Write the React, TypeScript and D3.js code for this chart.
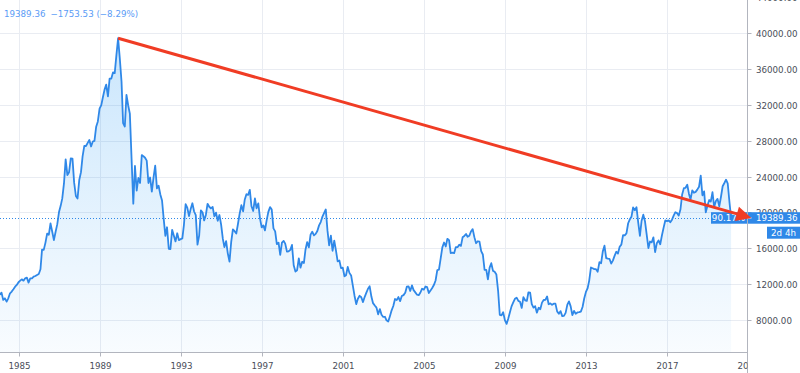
import React, { useRef, useEffect } from 'react';
import * as d3 from 'd3';

// Nikkei 225, monthly closes. Each list starts in January of its start year.
const closes1984to1989 = [
  10900, 10870, 11060, 10240, 10420, 10050, 10420, 10980, 11170, 11430, 11720, 11910,
  12210, 12390, 12540, 12390, 12650, 12730, 12170, 12650, 12650, 12840, 12910, 13030,
  13140, 13660, 15860, 15830, 16610, 17650, 17510, 18790, 17850, 16910, 17850, 18700,
  20050, 20770, 21570, 23270, 25930, 24180, 24490, 26030, 26010, 23330, 21840, 21560,
  23620, 24500, 26260, 27430, 27420, 27770, 28100, 27370, 27920, 28000, 29580, 30160,
  31580, 31990, 32840, 33710, 34270, 32950, 34950, 34950, 35640, 35550, 37600, 39450,
];

const closes1990s = [
  37190, 34590, 29980, 29590, 33130, 31940, 31040, 25980, 20980, 25190, 22450, 23850,
  23290, 26410, 26290, 26110, 25790, 23290, 23900, 22340, 23920, 25220, 22690, 22980,
  22020, 21340, 19350, 17390, 18350, 15950, 15910, 18060, 17400, 16770, 17680, 16920,
  17020, 17110, 18590, 20920, 20550, 19590, 20380, 21030, 20110, 19700, 16410, 17420,
  20230, 20000, 19110, 19730, 20970, 20640, 20450, 20630, 19560, 19990, 19080, 19720,
  18650, 17050, 16140, 16810, 15440, 14520, 16680, 18120, 17910, 17650, 18740, 19870,
  20810, 20130, 21410, 22040, 21960, 22530, 20690, 20170, 21560, 20470, 21020, 19360,
  18330, 18560, 18000, 19150, 20070, 20600, 20330, 18230, 17890, 16460, 16640, 15260,
  16630, 16830, 16530, 15640, 15670, 15830, 16380, 14110, 13410, 13560, 14880, 13840,
  14500, 14370, 15840, 16700, 16110, 17530, 17860, 17440, 17610, 17940, 18560, 18930,
];

const closes2000s = [
  19540, 19960, 20340, 17970, 16330, 17410, 15730, 16860, 15750, 14540, 14650, 13790,
  13840, 12880, 13000, 13930, 13260, 12970, 11860, 10710, 9770, 10370, 10700, 10540,
  10000, 10590, 11020, 11490, 11760, 10620, 9880, 9620, 9380, 8640, 9220, 8580,
  8340, 8360, 7970, 7830, 8420, 9080, 9560, 10340, 10220, 10560, 10100, 10680,
  10780, 11040, 11720, 11760, 11240, 11860, 11330, 11080, 10820, 10770, 11070, 11490,
  11390, 11740, 11670, 11010, 11280, 11580, 11900, 12410, 13570, 13610, 14870, 16110,
  16650, 16210, 17060, 16910, 15470, 15510, 15460, 16140, 16130, 16400, 16270, 17230,
  17380, 17600, 17290, 17400, 17880, 18140, 17250, 16570, 16790, 16740, 15680, 15310,
  13590, 13600, 12530, 13850, 14340, 13480, 13380, 13070, 11260, 8580, 8510, 8860,
  7990, 7570, 8110, 8830, 9520, 9960, 10360, 10490, 10130, 10030, 9350, 10550,
];

const closes2010s = [
  10200, 10130, 11090, 11060, 9770, 9380, 9540, 8820, 9370, 9200, 9940, 10230,
  10240, 10620, 9760, 9850, 9690, 9820, 9830, 8960, 8700, 8990, 8430, 8460,
  8800, 9720, 10080, 9520, 8540, 9010, 8700, 8840, 8870, 8930, 9450, 10400,
  11140, 11560, 12400, 13860, 13770, 13680, 13670, 13390, 14460, 14330, 15660, 16290,
  14910, 14840, 14830, 14300, 14630, 15160, 15620, 15420, 16170, 16410, 17460, 17450,
  17670, 18800, 19210, 19520, 20560, 20240, 20590, 18890, 17390, 19080, 19750, 19030,
  17520, 16030, 16760, 16670, 17230, 15580, 16570, 16890, 16450, 17430, 18310, 19110,
  19040, 19120, 18910, 19200, 19650, 20030, 19930, 19650, 20360, 22010, 22720, 22760,
  23100, 22070, 21450, 22470, 22200, 22300, 22550, 22870, 24120, 21920, 22350, 20010,
  20770, 21390, 21210, 22260, 20600, 21280, 21520, 20700, 21760, 22930, 23290, 23660,
  23210, 21140, 19389.36,
];

const yearTicks = [1985, 1989, 1993, 1997, 2001, 2005, 2009, 2013, 2017, 2021];
const priceTicks = [8000, 12000, 16000, 20000, 24000, 28000, 32000, 36000, 40000, 44000];

const lastPrice = 19389.36;
const headerParts = ['19389.36', '\u22121753.53 (\u22128.29%)'];
const changeBadge = '90.17%';
const countdown = '2d 4h';

// the hand-drawn trend arrow: from the 1989 top to the current price level
const arrowFrom = { year: 1989, month: 11, value: 39450 };
const arrowTo = { year: 2021, month: 2, value: 19389.36 };

export default function App() {
  const chartRef = useRef(null);

  useEffect(() => {
    d3.select(chartRef.current).selectAll('*').remove();

    const width = 800;
    const height = 373;
    const plotRight = 747.5;
    const plotBottom = 352.5;
    const font = "'DejaVu Sans', sans-serif";
    const fontSize = 8.7;
    const blue = '#2f88e8';
    const textColor = '#4a4e59';
    const gridColor = '#e9ecf2';

    const series = [
      { start: 1984, closes: closes1984to1989 },
      { start: 1990, closes: closes1990s },
      { start: 2000, closes: closes2000s },
      { start: 2010, closes: closes2010s },
    ];
    const points = series.flatMap(s =>
      s.closes.map((v, i) => ({ date: new Date(Date.UTC(s.start, i, 1)), value: v }))
    );

    const x = d3.scaleUtc()
      .domain([new Date(Date.UTC(1985, 0, 1)), new Date(Date.UTC(2017, 0, 1))])
      .range([18.5, 667]);
    const y = d3.scaleLinear()
      .domain([8000, 40000])
      .range([320, 33.3]);

    const svg = d3.select(chartRef.current)
      .append('svg')
      .attr('width', width)
      .attr('height', height)
      .style('display', 'block')
      .style('font-family', font);

    svg.append('rect').attr('width', width).attr('height', height).attr('fill', '#ffffff');

    const defs = svg.append('defs');
    defs.append('clipPath').attr('id', 'plotClip')
      .append('rect').attr('x', 0).attr('y', 0).attr('width', plotRight).attr('height', plotBottom);
    defs.append('clipPath').attr('id', 'timeClip')
      .append('rect').attr('x', 0).attr('y', plotBottom).attr('width', plotRight).attr('height', height - plotBottom);

    const grad = defs.append('linearGradient')
      .attr('id', 'areaFill')
      .attr('gradientUnits', 'userSpaceOnUse')
      .attr('x1', 0).attr('x2', 0)
      .attr('y1', y(40000)).attr('y2', plotBottom);
    grad.append('stop').attr('offset', 0).attr('stop-color', '#2196f3').attr('stop-opacity', 0.24);
    grad.append('stop').attr('offset', 1).attr('stop-color', '#2196f3').attr('stop-opacity', 0.03);

    const plot = svg.append('g').attr('clip-path', 'url(#plotClip)');

    // grid
    plot.selectAll('.vgrid')
      .data(yearTicks)
      .enter().append('line')
      .attr('x1', d => Math.round(x(new Date(Date.UTC(d, 0, 1)))) + 0.5)
      .attr('x2', d => Math.round(x(new Date(Date.UTC(d, 0, 1)))) + 0.5)
      .attr('y1', 0).attr('y2', plotBottom)
      .attr('stroke', gridColor);
    plot.selectAll('.hgrid')
      .data(priceTicks)
      .enter().append('line')
      .attr('x1', 0).attr('x2', plotRight)
      .attr('y1', d => Math.round(y(d)) + 0.5)
      .attr('y2', d => Math.round(y(d)) + 0.5)
      .attr('stroke', gridColor);

    // area + line
    const area = d3.area()
      .x(d => x(d.date))
      .y0(plotBottom)
      .y1(d => y(d.value));
    const line = d3.line()
      .x(d => x(d.date))
      .y(d => y(d.value));

    plot.append('path').datum(points).attr('d', area).attr('fill', 'url(#areaFill)');
    plot.append('path').datum(points).attr('d', line)
      .attr('fill', 'none')
      .attr('stroke', blue)
      .attr('stroke-width', 1.8)
      .attr('stroke-linejoin', 'round');

    // last price dotted line
    plot.append('line')
      .attr('x1', 0).attr('x2', plotRight)
      .attr('y1', Math.round(y(lastPrice)) + 0.5)
      .attr('y2', Math.round(y(lastPrice)) + 0.5)
      .attr('stroke', blue)
      .attr('stroke-width', 1)
      .attr('stroke-dasharray', '1,2');

    // axis lines
    svg.append('line')
      .attr('x1', 0).attr('x2', plotRight)
      .attr('y1', plotBottom).attr('y2', plotBottom)
      .attr('stroke', '#b2b5be');
    svg.append('line')
      .attr('x1', plotRight).attr('x2', plotRight)
      .attr('y1', 0).attr('y2', height)
      .attr('stroke', '#b2b5be');

    // time axis
    const timeAxis = svg.append('g').attr('clip-path', 'url(#timeClip)');
    const yearTick = timeAxis.selectAll('.ytick')
      .data(yearTicks)
      .enter().append('g')
      .attr('transform', d => `translate(${Math.round(x(new Date(Date.UTC(d, 0, 1)))) + 0.5},0)`);
    yearTick.append('line')
      .attr('y1', plotBottom).attr('y2', plotBottom + 4)
      .attr('stroke', '#b2b5be');
    yearTick.append('text')
      .attr('y', 369)
      .attr('text-anchor', 'middle')
      .attr('fill', textColor)
      .style('font-size', `${fontSize}px`)
      .text(d => d);

    // price axis
    const priceTick = svg.selectAll('.ptick')
      .data(priceTicks)
      .enter().append('g')
      .attr('transform', d => `translate(0,${Math.round(y(d)) + 0.5})`);
    priceTick.append('line')
      .attr('x1', plotRight).attr('x2', plotRight + 4)
      .attr('stroke', '#b2b5be');
    priceTick.append('text')
      .attr('x', 756)
      .attr('dy', '0.35em')
      .attr('fill', textColor)
      .style('font-size', `${fontSize}px`)
      .text(d => d3.format('.2f')(d));

    // price label boxes
    const yLast = y(lastPrice);
    const boxH = 11.5;
    svg.append('rect')
      .attr('x', 711).attr('y', yLast - boxH / 2)
      .attr('width', plotRight - 0.5 - 711).attr('height', boxH)
      .attr('fill', blue);
    svg.append('text')
      .attr('x', 745).attr('y', yLast).attr('dy', '0.35em')
      .attr('text-anchor', 'end')
      .attr('fill', '#ffffff')
      .style('font-size', `${fontSize}px`)
      .text(changeBadge);

    svg.append('rect')
      .attr('x', plotRight + 0.5).attr('y', yLast - boxH / 2)
      .attr('width', width - plotRight).attr('height', boxH)
      .attr('fill', blue);
    svg.append('line')
      .attr('x1', plotRight).attr('x2', plotRight + 4)
      .attr('y1', yLast).attr('y2', yLast)
      .attr('stroke', '#ffffff');
    svg.append('text')
      .attr('x', 756).attr('y', yLast).attr('dy', '0.35em')
      .attr('fill', '#ffffff')
      .style('font-size', `${fontSize}px`)
      .text(d3.format('.2f')(lastPrice));

    svg.append('rect')
      .attr('x', 767).attr('y', yLast + boxH / 2 + 3)
      .attr('width', width - 767).attr('height', boxH + 0.5)
      .attr('fill', blue);
    svg.append('text')
      .attr('x', 783.5).attr('y', yLast + boxH + 3.2).attr('dy', '0.35em')
      .attr('text-anchor', 'middle')
      .attr('fill', '#ffffff')
      .style('font-size', `${fontSize}px`)
      .text(countdown);

    // trend arrow
    const p0 = [x(new Date(Date.UTC(arrowFrom.year, arrowFrom.month, 1))), y(arrowFrom.value)];
    const p1 = [x(new Date(Date.UTC(arrowTo.year, arrowTo.month, 1))), y(arrowTo.value)];
    const len = Math.hypot(p1[0] - p0[0], p1[1] - p0[1]);
    const ux = (p1[0] - p0[0]) / len;
    const uy = (p1[1] - p0[1]) / len;
    const headLen = 15;
    const headHalf = 7.5;
    const bx = p1[0] - ux * headLen;
    const by = p1[1] - uy * headLen;
    const red = '#f03c24';
    svg.append('line')
      .attr('x1', p0[0]).attr('y1', p0[1])
      .attr('x2', bx + ux * 2).attr('y2', by + uy * 2)
      .attr('stroke', red)
      .attr('stroke-width', 3);
    svg.append('path')
      .attr('d', d3.line()([
        [p1[0], p1[1]],
        [bx - uy * headHalf, by + ux * headHalf],
        [bx + uy * headHalf, by - ux * headHalf],
      ]) + 'Z')
      .attr('fill', red);

    // header
    const header = svg.append('text')
      .attr('x', 4).attr('y', 16.5)
      .attr('fill', '#5b9cf6')
      .style('font-size', `${fontSize}px`);
    header.append('tspan').text(headerParts[0]);
    header.append('tspan').attr('dx', 5).text(headerParts[1]);
  }, []);

  return <div ref={chartRef} style={{ position: 'absolute', left: 0, top: 0, width: 800, height: 373 }}></div>;
}
